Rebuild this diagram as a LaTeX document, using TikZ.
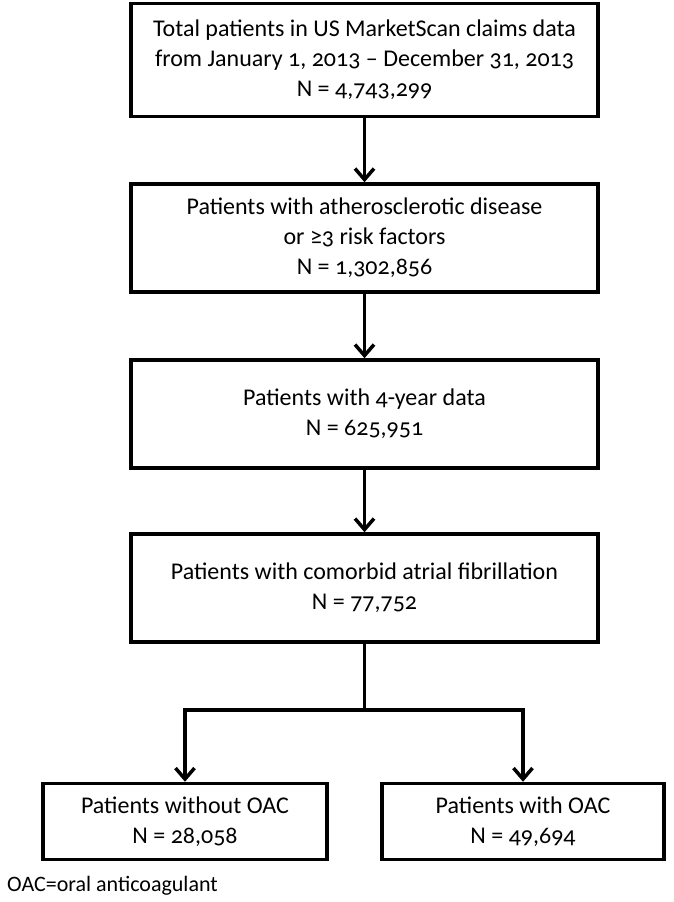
\documentclass[tikz,border=0pt]{standalone}
\usepackage{fontspec}
\setmainfont{Carlito}[Numbers=OldStyle]
\usetikzlibrary{arrows.meta}
\begin{document}
\begin{tikzpicture}[x=1pt,y=-1pt,
  box/.style={draw=black,line width=3.5pt,rectangle,inner sep=0pt,align=center,
    font=\fontsize{24}{30}\selectfont},
  arr/.style={line width=3.5pt,-{Straight Barb[length=11pt,width=19pt,line width=3.5pt]}},
  lnk/.style={line width=3.5pt}]
\useasboundingbox (0,0) rectangle (673,902);
\fill[white] (0,0) rectangle (673,902);
\node[box,minimum width=467pt,minimum height=113pt] (b1) at (364.5,60)
  {Total patients in US MarketScan claims data\\from January 1, 2013 – December 31, 2013\\N = 4,743,299};
\node[box,minimum width=467pt,minimum height=108pt] (b2) at (364.5,238)
  {Patients with atherosclerotic disease\\or ≥3 risk factors\\N = 1,302,856};
\node[box,minimum width=467pt,minimum height=108pt] (b3) at (364.5,414)
  {Patients with 4-year data\\N = 625,951};
\node[box,minimum width=467pt,minimum height=108pt] (b4) at (364.5,588)
  {Patients with comorbid atrial fibrillation\\N = 77,752};
\node[box,minimum width=284pt,minimum height=76pt] (b5) at (185,821.5)
  {Patients without OAC\\N = 28,058};
\node[box,minimum width=282pt,minimum height=76pt] (b6) at (523,821.5)
  {Patients with OAC\\N = 49,694};
\node[anchor=west,inner sep=0pt,font=\fontsize{22}{24}\selectfont] (fn) at (7,886) {OAC=oral anticoagulant};
\draw[arr] (b1.south) -- (b2.north);
\draw[arr] (b2.south) -- (b3.north);
\draw[arr] (b3.south) -- (b4.north);
\coordinate (j) at (364.5,710);
\draw[lnk] (b4.south) -- (j);
\draw[arr] (j) -| (b5.north);
\draw[arr] (j) -| (b6.north);
\end{tikzpicture}
\end{document}
